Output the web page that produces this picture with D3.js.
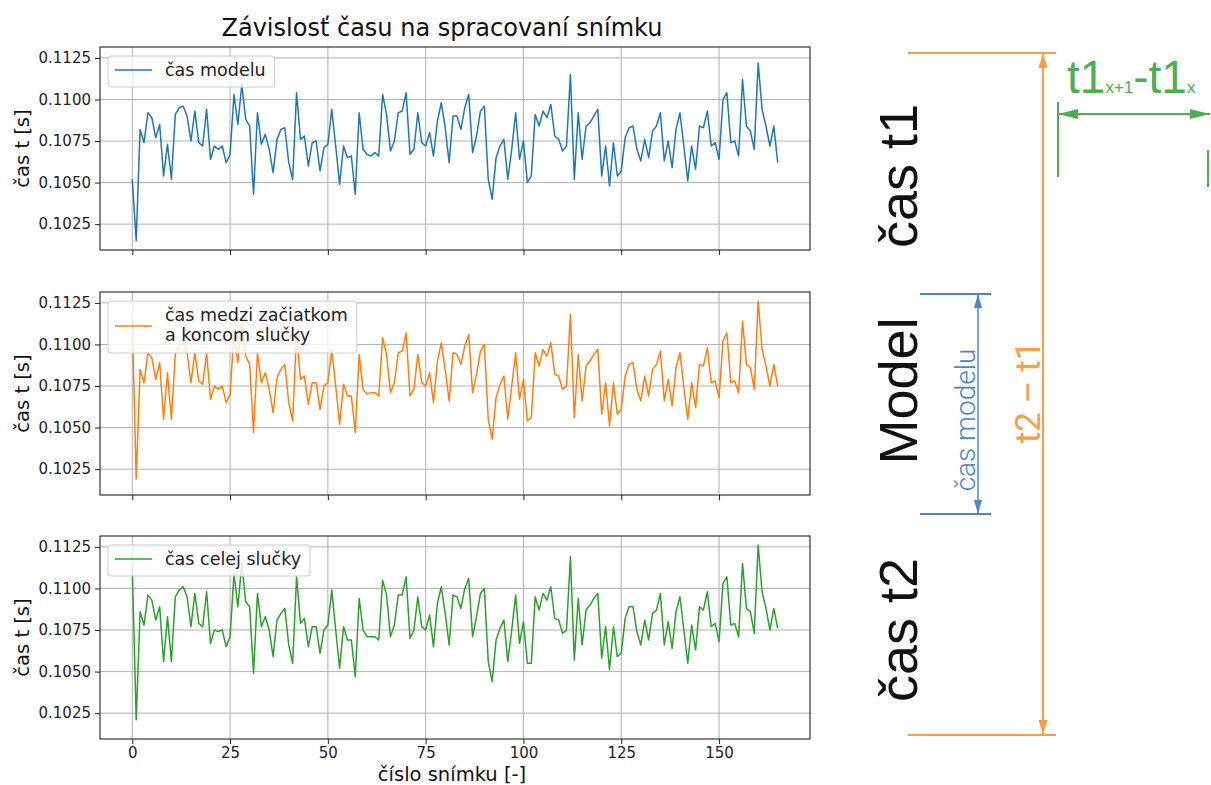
<!DOCTYPE html>
<html>
<head>
<meta charset="utf-8">
<script src="https://cdn.jsdelivr.net/npm/d3@7/dist/d3.min.js"></script>
<style>
  body { margin: 0; background: #fff; }
  svg { display: block; }
</style>
</head>
<body>
<svg id="chart"></svg>
<script>
const casModelu = [
  0.1052, 0.1015, 0.1082, 0.1074, 0.1092, 0.1089, 0.1077, 0.1085, 0.1054, 0.1073,
  0.1052, 0.1091, 0.1095, 0.1096, 0.1090, 0.1075, 0.1093, 0.1074, 0.1072, 0.1094,
  0.1064, 0.1072, 0.1070, 0.1072, 0.1062, 0.1067, 0.1103, 0.1085, 0.1109, 0.1088,
  0.1084, 0.1043, 0.1092, 0.1073, 0.1079, 0.1070, 0.1056, 0.1076, 0.1082, 0.1083,
  0.1062, 0.1052, 0.1104, 0.1076, 0.1078, 0.1060, 0.1074, 0.1075, 0.1057, 0.1071,
  0.1073, 0.1094, 0.1072, 0.1049, 0.1072, 0.1065, 0.1066, 0.1043, 0.1092, 0.1070,
  0.1067, 0.1066, 0.1068, 0.1066, 0.1103, 0.1091, 0.1069, 0.1075, 0.1092, 0.1093,
  0.1104, 0.1067, 0.1070, 0.1092, 0.1074, 0.1072, 0.1080, 0.1066, 0.1087, 0.1098,
  0.1083, 0.1062, 0.1090, 0.1090, 0.1082, 0.1095, 0.1103, 0.1068, 0.1078, 0.1093,
  0.1096, 0.1052, 0.1040, 0.1065, 0.1072, 0.1076, 0.1052, 0.1070, 0.1092, 0.1064,
  0.1075, 0.1050, 0.1054, 0.1091, 0.1084, 0.1093, 0.1089, 0.1097, 0.1078, 0.1076,
  0.1069, 0.1072, 0.1115, 0.1052, 0.1092, 0.1064, 0.1084, 0.1086, 0.1090, 0.1094,
  0.1054, 0.1072, 0.1048, 0.1074, 0.1054, 0.1057, 0.1077, 0.1083, 0.1084, 0.1070,
  0.1063, 0.1076, 0.1065, 0.1081, 0.1084, 0.1092, 0.1063, 0.1075, 0.1059, 0.1082,
  0.1092, 0.1072, 0.1051, 0.1072, 0.1058, 0.1084, 0.1083, 0.1093, 0.1072, 0.1074,
  0.1064, 0.1100, 0.1104, 0.1074, 0.1075, 0.1066, 0.1112, 0.1084, 0.1081, 0.1070,
  0.1122, 0.1094, 0.1084, 0.1072, 0.1084, 0.1062
];

const casMedzi = [
  0.1115, 0.1019, 0.1085, 0.1077, 0.1095, 0.1092, 0.1079, 0.1089, 0.1055, 0.1083,
  0.1055, 0.1094, 0.1099, 0.1101, 0.1095, 0.1077, 0.1095, 0.1078, 0.1076, 0.1095,
  0.1067, 0.1075, 0.1073, 0.1075, 0.1065, 0.1070, 0.1107, 0.1089, 0.1113, 0.1093,
  0.1088, 0.1047, 0.1095, 0.1077, 0.1083, 0.1073, 0.1059, 0.1080, 0.1085, 0.1088,
  0.1065, 0.1054, 0.1107, 0.1079, 0.1081, 0.1064, 0.1077, 0.1077, 0.1061, 0.1075,
  0.1077, 0.1097, 0.1075, 0.1052, 0.1076, 0.1069, 0.1069, 0.1047, 0.1094, 0.1073,
  0.1070, 0.1071, 0.1071, 0.1069, 0.1104, 0.1094, 0.1071, 0.1077, 0.1095, 0.1096,
  0.1107, 0.1069, 0.1073, 0.1094, 0.1077, 0.1075, 0.1083, 0.1065, 0.1090, 0.1101,
  0.1085, 0.1066, 0.1095, 0.1094, 0.1088, 0.1099, 0.1106, 0.1071, 0.1082, 0.1096,
  0.1100, 0.1055, 0.1043, 0.1068, 0.1076, 0.1081, 0.1055, 0.1075, 0.1095, 0.1067,
  0.1079, 0.1054, 0.1056, 0.1095, 0.1087, 0.1097, 0.1093, 0.1101, 0.1082, 0.1081,
  0.1073, 0.1075, 0.1118, 0.1056, 0.1094, 0.1066, 0.1087, 0.1090, 0.1094, 0.1097,
  0.1058, 0.1077, 0.1051, 0.1077, 0.1058, 0.1061, 0.1081, 0.1088, 0.1089, 0.1073,
  0.1066, 0.1081, 0.1069, 0.1085, 0.1088, 0.1096, 0.1066, 0.1079, 0.1063, 0.1086,
  0.1095, 0.1074, 0.1055, 0.1077, 0.1062, 0.1088, 0.1087, 0.1098, 0.1077, 0.1078,
  0.1068, 0.1102, 0.1107, 0.1077, 0.1078, 0.1071, 0.1114, 0.1088, 0.1086, 0.1073,
  0.1126, 0.1097, 0.1087, 0.1075, 0.1088, 0.1075
];

const casCelej = [
  0.1113, 0.1021, 0.1086, 0.1078, 0.1096, 0.1093, 0.1081, 0.1089, 0.1056, 0.1083,
  0.1056, 0.1095, 0.1099, 0.1101, 0.1095, 0.1077, 0.1097, 0.1079, 0.1077, 0.1098,
  0.1067, 0.1075, 0.1074, 0.1075, 0.1065, 0.1071, 0.1109, 0.1089, 0.1115, 0.1092,
  0.1089, 0.1049, 0.1097, 0.1077, 0.1083, 0.1075, 0.1059, 0.1081, 0.1085, 0.1088,
  0.1066, 0.1055, 0.1107, 0.1079, 0.1082, 0.1065, 0.1077, 0.1077, 0.1061, 0.1075,
  0.1078, 0.1099, 0.1075, 0.1052, 0.1077, 0.1069, 0.1069, 0.1047, 0.1094, 0.1075,
  0.1071, 0.1071, 0.1071, 0.1069, 0.1105, 0.1096, 0.1071, 0.1078, 0.1096, 0.1096,
  0.1107, 0.1070, 0.1075, 0.1095, 0.1077, 0.1075, 0.1084, 0.1065, 0.1091, 0.1101,
  0.1085, 0.1066, 0.1096, 0.1095, 0.1088, 0.1100, 0.1106, 0.1071, 0.1083, 0.1097,
  0.1100, 0.1056, 0.1044, 0.1069, 0.1076, 0.1081, 0.1056, 0.1075, 0.1096, 0.1067,
  0.1080, 0.1055, 0.1055, 0.1095, 0.1087, 0.1097, 0.1093, 0.1101, 0.1082, 0.1081,
  0.1073, 0.1075, 0.1119, 0.1057, 0.1094, 0.1066, 0.1087, 0.1090, 0.1094, 0.1097,
  0.1058, 0.1077, 0.1051, 0.1077, 0.1059, 0.1061, 0.1082, 0.1089, 0.1089, 0.1074,
  0.1066, 0.1081, 0.1069, 0.1085, 0.1087, 0.1097, 0.1066, 0.1080, 0.1064, 0.1086,
  0.1095, 0.1075, 0.1055, 0.1078, 0.1063, 0.1089, 0.1087, 0.1098, 0.1077, 0.1079,
  0.1068, 0.1103, 0.1107, 0.1078, 0.1079, 0.1071, 0.1115, 0.1088, 0.1086, 0.1073,
  0.1126, 0.1098, 0.1088, 0.1075, 0.1088, 0.1076
];

const xTicks = [0, 25, 50, 75, 100, 125, 150];
const yTicks = [0.1025, 0.1050, 0.1075, 0.1100, 0.1125];

const panels = [
  { values: casModelu, color: '#1f77b4', legend: ['čas modelu'] },
  { values: casMedzi, color: '#ff7f0e', legend: ['čas medzi začiatkom', 'a koncom slučky'] },
  { values: casCelej, color: '#2ca02c', legend: ['čas celej slučky'] }
];

const width = 1211, height = 785;
const plotLeft = 100, plotRight = 810;
const panelTop = [47, 292, 536];
const panelH = 203;
const mplFont = '"DejaVu Sans", sans-serif';

const svg = d3.select('#chart')
  .attr('width', width)
  .attr('height', height)
  .style('font-family', mplFont);

svg.append('rect').attr('width', width).attr('height', height).attr('fill', '#fff');

// matplotlib style 5% margins
const n = casModelu.length - 1;
const x = d3.scaleLinear()
  .domain([-n * 0.05, n * 1.05])
  .range([plotLeft, plotRight]);

const [lo, hi] = d3.extent(casModelu.concat(casMedzi, casCelej));
const pad = (hi - lo) * 0.05;

svg.append('text')
  .attr('x', 442)
  .attr('y', 36)
  .attr('text-anchor', 'middle')
  .attr('font-size', 24)
  .attr('fill', '#111')
  .text('Závislosť času na spracovaní snímku');

panels.forEach((p, k) => {
  const top = panelTop[k];
  const bottom = top + panelH;
  const y = d3.scaleLinear().domain([lo - pad, hi + pad]).range([bottom, top]);
  const g = svg.append('g');

  g.append('clipPath').attr('id', `clip-${k}`)
    .append('rect')
    .attr('x', plotLeft).attr('y', top)
    .attr('width', plotRight - plotLeft).attr('height', panelH);

  g.append('g').selectAll('line')
    .data(xTicks)
    .enter().append('line')
    .attr('x1', d => x(d)).attr('x2', d => x(d))
    .attr('y1', top).attr('y2', bottom)
    .attr('stroke', '#b0b0b0').attr('stroke-width', 1);

  g.append('g').selectAll('line')
    .data(yTicks)
    .enter().append('line')
    .attr('x1', plotLeft).attr('x2', plotRight)
    .attr('y1', d => y(d)).attr('y2', d => y(d))
    .attr('stroke', '#b0b0b0').attr('stroke-width', 1);

  const line = d3.line()
    .x((d, i) => x(i))
    .y(d => y(d));

  g.append('path')
    .datum(p.values)
    .attr('clip-path', `url(#clip-${k})`)
    .attr('d', line)
    .attr('fill', 'none')
    .attr('stroke', p.color)
    .attr('stroke-width', 1.5)
    .attr('stroke-linejoin', 'round');

  g.append('rect')
    .attr('x', plotLeft).attr('y', top)
    .attr('width', plotRight - plotLeft).attr('height', panelH)
    .attr('fill', 'none').attr('stroke', '#222').attr('stroke-width', 1.1);

  const yAxis = g.append('g')
    .attr('transform', `translate(${plotLeft},0)`)
    .call(d3.axisLeft(y).tickValues(yTicks).tickFormat(d3.format('.4f')).tickSize(5).tickPadding(4));
  yAxis.select('.domain').remove();
  yAxis.selectAll('text').attr('font-size', 15).attr('font-family', mplFont).attr('fill', '#222');
  yAxis.selectAll('line').attr('stroke', '#222');

  const xAxis = g.append('g')
    .attr('transform', `translate(0,${bottom})`)
    .call(d3.axisBottom(x).tickValues(xTicks).tickSize(5).tickPadding(3)
      .tickFormat(k === panels.length - 1 ? d3.format('d') : ''));
  xAxis.select('.domain').remove();
  xAxis.selectAll('text').attr('font-size', 15).attr('font-family', mplFont).attr('fill', '#222');
  xAxis.selectAll('line').attr('stroke', '#222');

  g.append('text')
    .attr('transform', `translate(29,${top + panelH / 2}) rotate(-90)`)
    .attr('text-anchor', 'middle')
    .attr('font-size', 19.5)
    .attr('fill', '#111')
    .text('čas t [s]');

  // legend
  const lg = g.append('g');
  const box = lg.append('rect')
    .attr('x', 108).attr('y', top + 9)
    .attr('rx', 3)
    .attr('fill', 'rgba(255,255,255,0.8)')
    .attr('stroke', '#cccccc');
  const lines = p.legend.length;
  const texts = lg.selectAll('text')
    .data(p.legend)
    .enter().append('text')
    .attr('x', 165)
    .attr('y', (d, i) => top + 29 + i * 19.5)
    .attr('font-size', 17.5)
    .attr('fill', '#222')
    .text(d => d);
  const tw = d3.max(texts.nodes(), t => t.getComputedTextLength());
  box.attr('width', 165 - 108 + tw + 9)
    .attr('height', lines === 1 ? 31 : 52);
  const sy = lines === 1 ? top + 23 : top + 34;
  lg.append('line')
    .attr('x1', 115).attr('x2', 152)
    .attr('y1', sy).attr('y2', sy)
    .attr('stroke', p.color).attr('stroke-width', 1.5);
});

svg.append('text')
  .attr('x', 452)
  .attr('y', 781)
  .attr('text-anchor', 'middle')
  .attr('font-size', 19.5)
  .attr('fill', '#111')
  .text('číslo snímku [-]');

// explanatory diagram on the right
const orange = '#f5a048', blue = '#4a86c6', green = '#4cae50';
const diag = svg.append('g').style('font-family', '"Liberation Sans", Arial, sans-serif');

const seg = (x1, y1, x2, y2, color, w) => diag.append('line')
  .attr('x1', x1).attr('y1', y1).attr('x2', x2).attr('y2', y2)
  .attr('stroke', color).attr('stroke-width', w);

const head = (tx, ty, dx, dy, len, half, color) => {
  const bx = tx + dx * len, by = ty + dy * len;
  const px = -dy * half, py = dx * half;
  diag.append('path')
    .attr('d', `M${tx},${ty}L${bx + px},${by + py}L${bx - px},${by - py}Z`)
    .attr('fill', color);
};

[['čas t1', 176], ['Model', 391], ['čas t2', 630]].forEach(([t, cy]) => {
  diag.append('text')
    .attr('transform', `translate(917,${cy}) rotate(-90)`)
    .attr('text-anchor', 'middle')
    .attr('font-size', 54)
    .attr('fill', '#111')
    .text(t);
});

seg(908, 53, 1056, 53, orange, 2);
seg(908, 735, 1056, 735, orange, 2);
seg(1043, 53, 1043, 735, orange, 2);
head(1043, 53, 0, 1, 15, 4.5, orange);
head(1043, 735, 0, -1, 15, 4.5, orange);
diag.append('text')
  .attr('transform', 'translate(1040,392) rotate(-90)')
  .attr('text-anchor', 'middle')
  .attr('font-size', 35)
  .attr('font-family', 'Roboto, "Liberation Sans", sans-serif')
  .attr('font-weight', 400)
  .attr('fill', orange)
  .text('t2 – t1');

seg(920, 294, 991, 294, blue, 2);
seg(920, 514, 991, 514, blue, 2);
seg(978, 294, 978, 514, blue, 1.5);
head(978, 294, 0, 1, 14, 4, blue);
head(978, 514, 0, -1, 14, 4, blue);
diag.append('text')
  .attr('transform', 'translate(975,420) rotate(-90)')
  .attr('text-anchor', 'middle')
  .attr('font-size', 28)
  .attr('font-family', 'Roboto, "Liberation Sans", sans-serif')
  .attr('font-weight', 300)
  .attr('fill', blue)
  .text('čas modelu');

seg(1058, 102, 1058, 177, green, 2);
seg(1058, 114, 1210, 114, green, 2);
head(1058, 114, 1, 0, 20, 5, green);
head(1210, 114, -1, 0, 20, 5, green);
seg(1208, 150, 1208, 187, green, 2);

const gt = diag.append('text')
  .attr('x', 1067)
  .attr('y', 93)
  .attr('font-size', 46)
  .attr('fill', green);
gt.append('tspan').text('t1');
gt.append('tspan').attr('font-size', 17).text('x+1');
gt.append('tspan').text('-t1');
gt.append('tspan').attr('font-size', 17).text('x');
</script>
</body>
</html>
